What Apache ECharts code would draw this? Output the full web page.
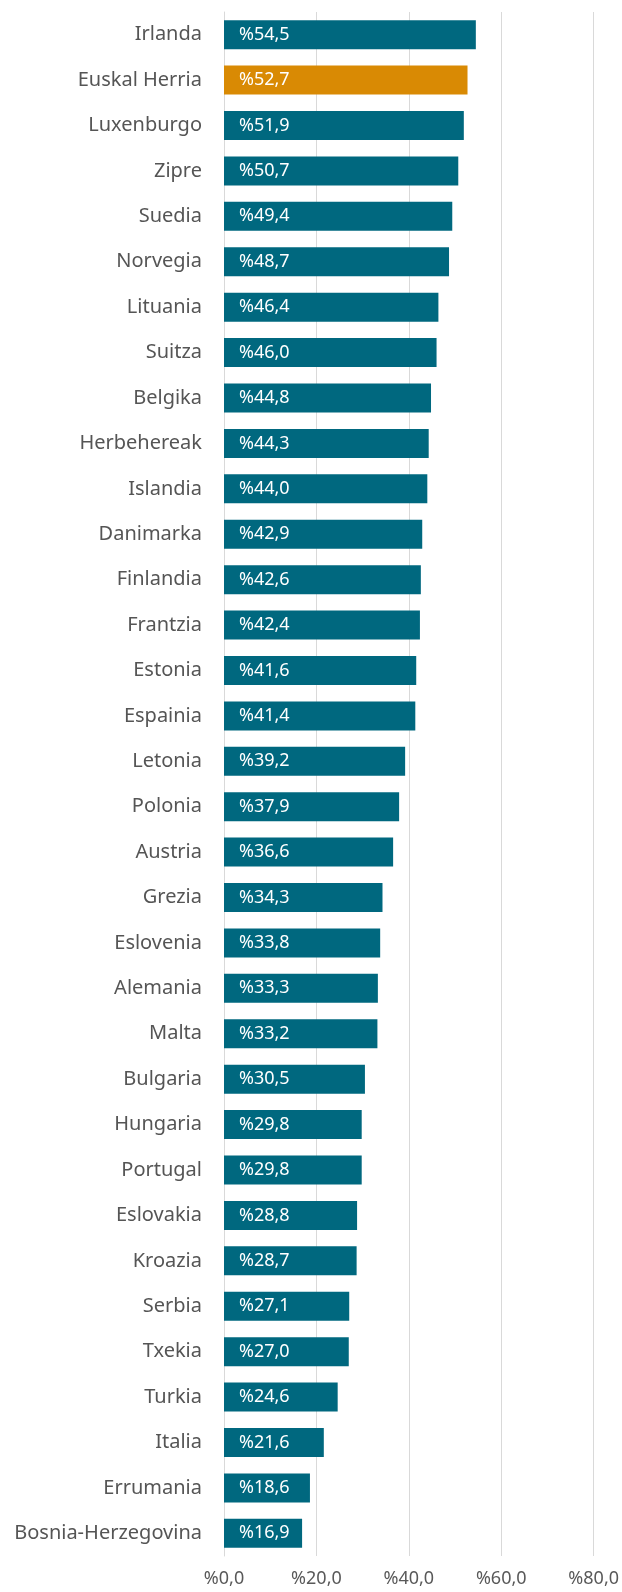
<!DOCTYPE html>
<html>
<head>
<meta charset="utf-8">
<script src="https://cdn.jsdelivr.net/npm/echarts@6/dist/echarts.min.js"></script>
<style>
html,body{margin:0;padding:0;background:#fff;}
#chart{width:622px;height:1592px;}
</style>
</head>
<body>
<div id="chart"></div>
<script>
const categories = ["Irlanda","Euskal Herria","Luxenburgo","Zipre","Suedia","Norvegia","Lituania","Suitza","Belgika","Herbehereak","Islandia","Danimarka","Finlandia","Frantzia","Estonia","Espainia","Letonia","Polonia","Austria","Grezia","Eslovenia","Alemania","Malta","Bulgaria","Hungaria","Portugal","Eslovakia","Kroazia","Serbia","Txekia","Turkia","Italia","Errumania","Bosnia-Herzegovina"];
const values = [54.5,52.7,51.9,50.7,49.4,48.7,46.4,46.0,44.8,44.3,44.0,42.9,42.6,42.4,41.6,41.4,39.2,37.9,36.6,34.3,33.8,33.3,33.2,30.5,29.8,29.8,28.8,28.7,27.1,27.0,24.6,21.6,18.6,16.9];
const highlight = "Euskal Herria";
const axisTicks = [0,20,40,60,80];

const fmt = v => '%' + Number(v).toFixed(1).replace('.', ',');
const chart = echarts.init(document.getElementById('chart'));
chart.setOption({
  animation: false,
  grid: {left: 224, right: 28, top: 12, bottom: 36, containLabel: false},
  xAxis: {
    type: 'value', min: axisTicks[0], max: axisTicks[axisTicks.length-1], interval: 20,
    axisLine: {show: false}, axisTick: {show: false},
    splitLine: {lineStyle: {color: '#d9d9d9', width: 1}},
    axisLabel: {formatter: fmt, color: '#595959', fontFamily: 'Noto Sans', fontSize: 18, margin: 14}
  },
  yAxis: {
    type: 'category', data: categories, inverse: true,
    axisLine: {show: true, lineStyle: {color: '#d9d9d9'}}, axisTick: {show: false},
    axisLabel: {color: '#555555', fontFamily: 'Noto Sans', fontSize: 20, margin: 22}
  },
  series: [{
    type: 'bar', barWidth: 29,
    data: values.map((v, i) => ({value: v, itemStyle: {color: categories[i] === highlight ? '#d98a04' : '#00687f'}})),
    label: {show: true, position: 'insideLeft', distance: 15, formatter: p => fmt(p.value),
      color: '#ffffff', fontFamily: 'Noto Sans', fontSize: 18}
  }]
});
</script>
</body>
</html>
